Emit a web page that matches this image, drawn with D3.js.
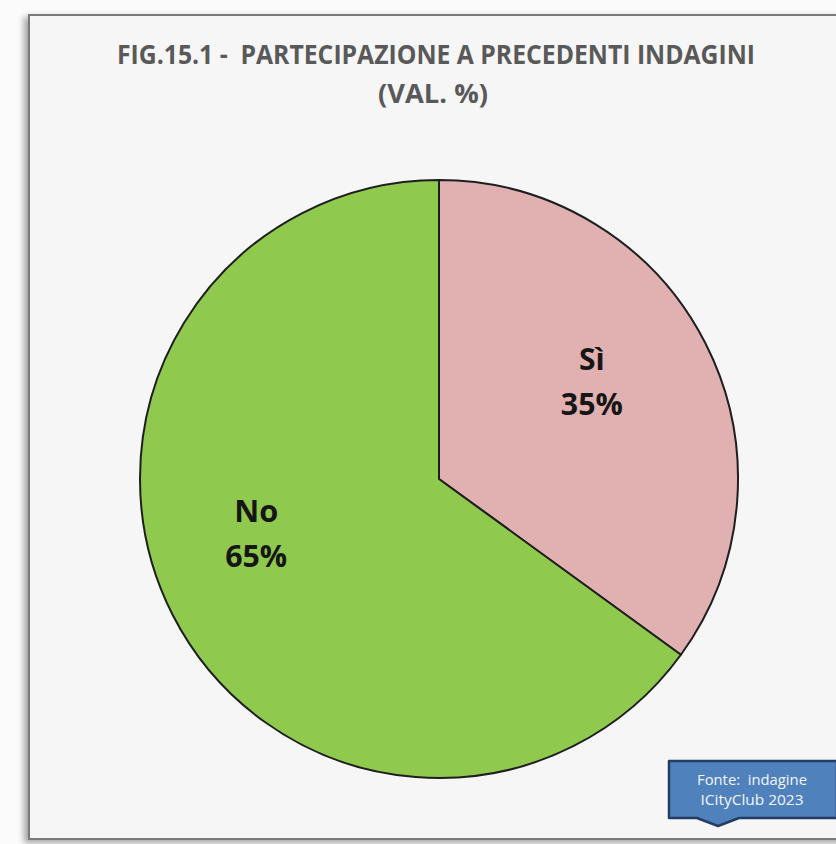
<!DOCTYPE html>
<html lang="it">
<head>
<meta charset="UTF-8">
<title>Partecipazione a precedenti indagini</title>
<script src="https://cdn.jsdelivr.net/npm/d3@7/dist/d3.min.js"></script>
<style>
  body { margin: 0; background: #fbfbfb; }
  svg { display: block; font-family: "Open Sans", "Noto Sans", sans-serif; }
  svg text { white-space: pre; }
</style>
</head>
<body>
<div id="chart"></div>
<script>
// data
var categories = ["Sì", "No"];
var values = [35, 65];
var sliceColors = ["#e1b1b2", "#8fca4f"];
var titleLines = ["FIG.15.1 -  PARTECIPAZIONE A PRECEDENTI INDAGINI", "(VAL. %)"];
var sourceLines = ["Fonte:  indagine", "ICityClub 2023"];

var W = 836, H = 844;
var svg = d3.select("#chart").append("svg")
    .attr("width", W).attr("height", H);

var defs = svg.append("defs");
var sh = defs.append("filter").attr("id", "shadow")
    .attr("x", "-5%").attr("y", "-5%").attr("width", "110%").attr("height", "110%");
sh.append("feDropShadow").attr("dx", -4).attr("dy", 3).attr("stdDeviation", 3)
    .attr("flood-color", "#000").attr("flood-opacity", 0.35);

// panel
svg.append("rect").attr("x", 29).attr("y", 15).attr("width", 830).attr("height", 824)
    .attr("fill", "#f6f6f6").attr("stroke", "#7a7a7a").attr("stroke-width", 2)
    .attr("filter", "url(#shadow)");

// title (Calibri-like: squeeze a wider face to the measured width)
var titleWidths = [638, 110];
svg.append("g").selectAll("text").data(titleLines).enter().append("text")
    .attr("text-anchor", "middle")
    .attr("fill", "#595959").attr("font-weight", "bold").attr("font-size", 26)
    .attr("x", function (d, i) { return i === 0 ? 436 : 433; })
    .attr("y", function (d, i) { return 64 + i * 39; })
    .attr("textLength", function (d, i) { return titleWidths[i]; })
    .attr("lengthAdjust", "spacingAndGlyphs")
    .text(function (d) { return d; });

// pie
var cx = 439, cy = 479, r = 299;
var pie = d3.pie().sort(null).value(function (d) { return d.value; });
var arc = d3.arc().innerRadius(0).outerRadius(r);
var data = categories.map(function (c, i) { return { key: c, value: values[i] }; });

var g = svg.append("g").attr("transform", "translate(" + cx + "," + cy + ")");
g.selectAll("path").data(pie(data)).enter().append("path")
    .attr("d", arc)
    .attr("fill", function (d, i) { return sliceColors[i]; })
    .attr("stroke", "#1e1e1e").attr("stroke-width", 2)
    .attr("stroke-linejoin", "round");

// labels near the centroid, nudged like the original layout
var labelArc = d3.arc().innerRadius(r * 0.6).outerRadius(r * 0.6);
var nudge = [[-7, -16], [-23, -26]];
var lab = g.selectAll(".lab").data(pie(data)).enter().append("text")
    .attr("class", "lab")
    .attr("text-anchor", "middle")
    .attr("font-weight", "bold").attr("font-size", 30).attr("fill", "#161616")
    .attr("transform", function (d, i) {
        var c = labelArc.centroid(d);
        return "translate(" + (c[0] + nudge[i][0]) + "," + (c[1] + nudge[i][1]) + ")";
    });
lab.append("tspan").attr("x", 0).attr("y", -12).attr("textLength", function (d, i) { return i === 0 ? null : 44; })
    .attr("lengthAdjust", "spacingAndGlyphs")
    .text(function (d) { return d.data.key; });
lab.append("tspan").attr("x", 0).attr("y", 33).attr("textLength", 62)
    .attr("lengthAdjust", "spacingAndGlyphs")
    .text(function (d) { return d.data.value + "%"; });

// source callout
var bx = 669, by = 761, bw = 168, bh = 57, px = 718;
svg.append("path")
    .attr("d", "M" + bx + "," + by + "H" + (bx + bw) + "V" + (by + bh) +
        "H" + (px + 21) + "L" + px + "," + (by + bh + 8) + "L" + (px - 21) + "," + (by + bh) +
        "H" + bx + "Z")
    .attr("fill", "#4f81bd").attr("stroke", "#223f63").attr("stroke-width", 2.5)
    .attr("stroke-linejoin", "round");
svg.append("text").attr("text-anchor", "middle").attr("fill", "#f4f6fa")
    .attr("font-size", 14.5)
    .selectAll("tspan").data(sourceLines).enter().append("tspan")
    .attr("x", 752).attr("y", function (d, i) { return 785 + i * 20; })
    .attr("textLength", function (d, i) { return i === 0 ? 110 : 103; })
    .attr("lengthAdjust", "spacingAndGlyphs")
    .text(function (d) { return d; });
</script>
</body>
</html>
